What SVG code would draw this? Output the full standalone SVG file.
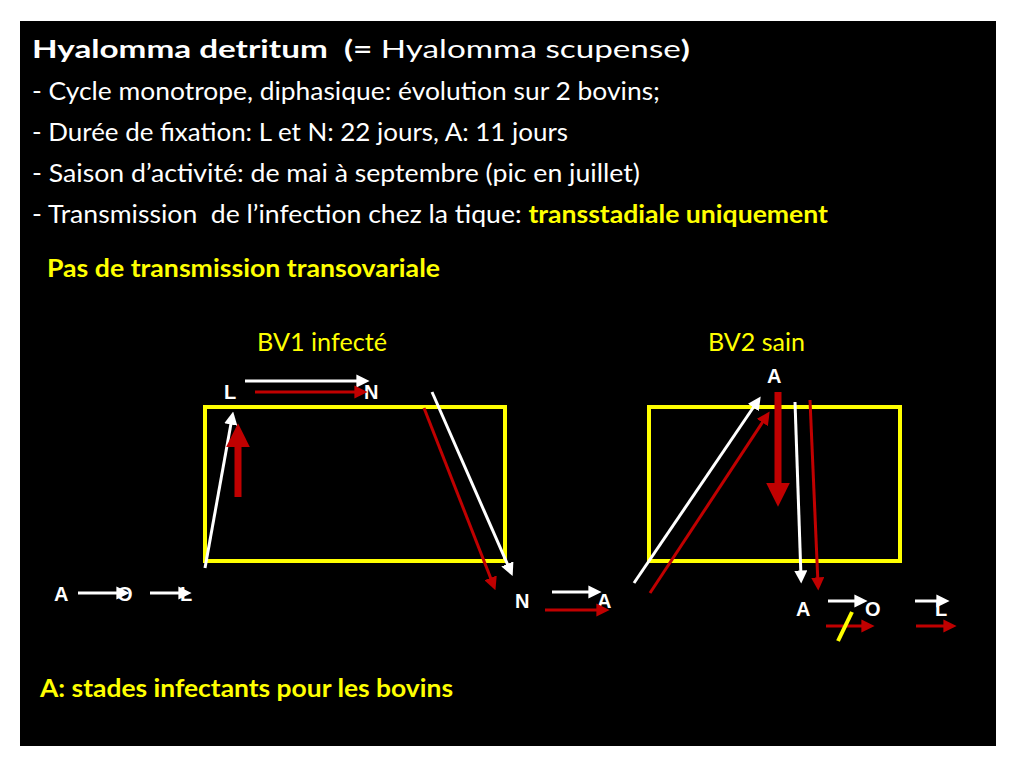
<svg xmlns="http://www.w3.org/2000/svg" width="1024" height="768" viewBox="0 0 1024 768">
<defs>
<marker id="hw" viewBox="0 0 10 10" refX="5" refY="5" markerWidth="4.4" markerHeight="4.4" orient="auto"><path d="M0,0 L10,5 L0,10 z" fill="#ffffff"/></marker>
<marker id="hr" viewBox="0 0 10 10" refX="5" refY="5" markerWidth="4.4" markerHeight="4.4" orient="auto"><path d="M0,0 L10,5 L0,10 z" fill="#c00000"/></marker>
<marker id="hbig" viewBox="0 0 10 10" refX="3" refY="5" markerWidth="3.4" markerHeight="3.4" orient="auto"><path d="M0,0 L10,5 L0,10 z" fill="#c00000"/></marker>
</defs>
<style>
.t{font-family:Lato,"Open Sans","Liberation Sans",sans-serif;fill:#ffffff;font-size:25px}
.b{font-weight:bold}
.y{fill:#ffff00}
.lbl{font-family:"Liberation Sans",Arial,sans-serif;font-weight:bold;font-size:20px;fill:#ffffff}
.box{fill:none;stroke:#ffff00;stroke-width:4}
.w{stroke:#ffffff;stroke-width:3;fill:none;marker-end:url(#hw)}
.r{stroke:#c00000;stroke-width:3;fill:none;marker-end:url(#hr)}
.rb{stroke:#c00000;stroke-width:7;fill:none;marker-end:url(#hbig)}
</style>
<rect x="0" y="0" width="1024" height="768" fill="#ffffff"/>
<rect x="20" y="21" width="976" height="725" fill="#000000"/>
<g id="header">
<text class="t" x="32" y="58" font-size="31" textLength="658" lengthAdjust="spacingAndGlyphs" xml:space="preserve"><tspan font-weight="bold">Hyalomma detritum  (=</tspan> Hyalomma scupense<tspan font-weight="bold">)</tspan></text>
<text class="t" x="32" y="100" textLength="628" lengthAdjust="spacingAndGlyphs">- Cycle monotrope, diphasique: évolution sur 2 bovins;</text>
<text class="t" x="32" y="141" textLength="536" lengthAdjust="spacingAndGlyphs">- Durée de fixation: L et N: 22 jours, A: 11 jours</text>
<text class="t" x="32" y="182" textLength="608" lengthAdjust="spacingAndGlyphs">- Saison d’activité: de mai à septembre (pic en juillet)</text>
<text class="t" x="32" y="223" textLength="796" lengthAdjust="spacingAndGlyphs" xml:space="preserve">- Transmission  de l’infection chez la tique: <tspan class="b y">transstadiale uniquement</tspan></text>
<text class="t b y" x="47" y="277" textLength="393" lengthAdjust="spacingAndGlyphs">Pas de transmission transovariale</text>
<text class="t b y" x="40" y="697" textLength="413" lengthAdjust="spacingAndGlyphs">A: stades infectants pour les bovins</text>
</g>
<g id="bv1">
<rect class="box" x="205" y="407" width="300" height="154"/>
<text class="t y" x="257" y="351" textLength="130" lengthAdjust="spacingAndGlyphs">BV1 infecté</text>
</g>
<g id="bv2">
<rect class="box" x="649" y="407" width="251" height="154"/>
<text class="t y" x="708" y="351" textLength="97" lengthAdjust="spacingAndGlyphs">BV2 sain</text>
</g>
<g id="labels">
<text class="lbl" x="224" y="399">L</text>
<text class="lbl" x="364" y="399">N</text>
<text class="lbl" x="54" y="601">A</text>
<text class="lbl" x="117" y="601">O</text>
<text class="lbl" x="180" y="601">L</text>
<text class="lbl" x="515" y="608">N</text>
<text class="lbl" x="597" y="608">A</text>
<text class="lbl" x="767" y="383">A</text>
<text class="lbl" x="796" y="616">A</text>
<text class="lbl" x="865" y="616">O</text>
<text class="lbl" x="935" y="616">L</text>
</g>
<g id="connectors">
<line class="w" x1="245" y1="381" x2="363" y2="381"/>
<line class="r" x1="255" y1="392" x2="361" y2="392"/>
<line class="w" x1="205" y1="568" x2="232" y2="418"/>
<line class="rb" x1="238" y1="497" x2="238" y2="440"/>
<line class="w" x1="432" y1="392" x2="510" y2="570"/>
<line class="r" x1="424" y1="408" x2="493" y2="584"/>
<line stroke="#ffffff" stroke-width="3" x1="78" y1="593" x2="120" y2="593"/>
<line class="w" x1="121" y1="593" x2="123" y2="593"/>
<line class="w" x1="150" y1="593" x2="185" y2="593"/>
<line class="w" x1="552" y1="592" x2="595" y2="592"/>
<line class="r" x1="545" y1="610" x2="603" y2="610"/>
<line class="w" x1="634" y1="583" x2="757" y2="402"/>
<line class="r" x1="650" y1="593" x2="766" y2="417"/>
<line class="rb" x1="778" y1="392" x2="778" y2="490"/>
<line class="w" x1="795" y1="402" x2="801" y2="577"/>
<line class="r" x1="810" y1="400" x2="818" y2="584"/>
<line class="w" x1="828" y1="601" x2="861" y2="601"/>
<line class="w" x1="915" y1="601" x2="943" y2="601"/>
<line class="r" x1="826" y1="626" x2="868" y2="626"/>
<line class="r" x1="916" y1="626" x2="950" y2="626"/>
<line stroke="#ffff00" stroke-width="4" x1="838" y1="641" x2="852" y2="612"/>
</g>
</svg>
